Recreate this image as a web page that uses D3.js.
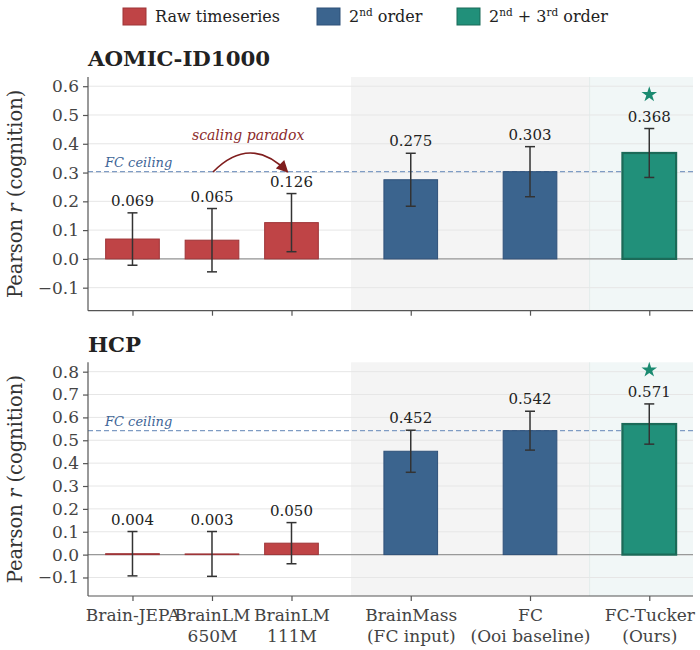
<!DOCTYPE html>
<html>
<head>
<meta charset="utf-8">
<script src="https://cdn.jsdelivr.net/npm/d3@7"></script>
<style>
  body { margin: 0; background: #fff; }
  svg text { font-family: "DejaVu Serif", serif; }
</style>
</head>
<body>
<div id="chart"></div>
<script>
// data
var categories = [["Brain-JEPA"], ["BrainLM", "650M"], ["BrainLM", "111M"],
                  ["BrainMass", "(FC input)"], ["FC", "(Ooi baseline)"], ["FC-Tucker", "(Ours)"]];
var groups = ["raw", "raw", "raw", "second", "second", "third"];
var aomicR = [0.069, 0.065, 0.126, 0.275, 0.303, 0.368];
var aomicErr = [0.091, 0.110, 0.101, 0.092, 0.087, 0.085];
var hcpR = [0.004, 0.003, 0.050, 0.452, 0.542, 0.571];
var hcpErr = [0.097, 0.098, 0.090, 0.092, 0.085, 0.088];
var fcCeiling = [0.303, 0.542];
var aomicTicks = [-0.1, 0, 0.1, 0.2, 0.3, 0.4, 0.5, 0.6];
var hcpTicks = [-0.1, 0, 0.1, 0.2, 0.3, 0.4, 0.5, 0.6, 0.7, 0.8];

var W = 700, H = 650;
var fill = {raw: "#bf4446", second: "#3b648e", third: "#21907a"};
var edge = {raw: "#9e3437", second: "#2e5079", third: "#1b6a58"};

// raw models sit closer together than the rest
var xPos = groups.map(function (g, i) { return i < 3 ? i * 2 / 3 : 4 / 3 + (i - 2); });

var svg = d3.select("#chart").append("svg").attr("width", W).attr("height", H);

var x = d3.scaleLinear().domain([-0.373, 4.70]).range([88, 693]);
var barW = x(0.45) - x(0);

// legend
var legendItems = [
  {g: "raw", x: 123, parts: [["Raw timeseries", 0]]},
  {g: "second", x: 317, parts: [["2", 0], ["nd", 1], [" order", 0]]},
  {g: "third", x: 457, parts: [["2", 0], ["nd", 1], [" + 3", 0], ["rd", 1], [" order", 0]]}
];
legendItems.forEach(function (d) {
  svg.append("rect").attr("x", d.x).attr("y", 8).attr("width", 23).attr("height", 17)
      .attr("fill", fill[d.g]).attr("stroke", edge[d.g]).attr("stroke-width", 1);
  var t = svg.append("text").attr("x", d.x + 32).attr("y", 22)
      .attr("font-size", 16).attr("fill", "#222");
  d.parts.forEach(function (p) {
    var s = t.append("tspan").text(p[0]);
    if (p[1]) s.attr("font-size", 10.5).attr("dy", -6);
    else if (t.selectAll("tspan").size() > 1) s.attr("dy", 6);
  });
});

function panel(opt) {
  var y = d3.scaleLinear().domain(opt.domain).range([opt.bottom, opt.top]);
  var g = svg.append("g");
  var x0 = x.range()[0], x1 = x.range()[1];

  // shaded groups
  g.append("rect").attr("x", x(1.833)).attr("y", opt.top)
      .attr("width", x(3.833) - x(1.833)).attr("height", opt.bottom - opt.top)
      .attr("fill", "#f4f4f4");
  g.append("rect").attr("x", x(3.833)).attr("y", opt.top)
      .attr("width", x1 - x(3.833)).attr("height", opt.bottom - opt.top)
      .attr("fill", "#f1f7f7");
  g.append("line").attr("x1", x(3.833)).attr("x2", x(3.833))
      .attr("y1", opt.top).attr("y2", opt.bottom).attr("stroke", "#e4eceb").attr("stroke-width", 1);

  // grid
  g.selectAll(".grid").data(opt.ticks).enter().append("line")
      .attr("x1", x0).attr("x2", x1)
      .attr("y1", function (d) { return y(d); }).attr("y2", function (d) { return y(d); })
      .attr("stroke", "#e6e6e6").attr("stroke-width", 1);

  // zero line
  g.append("line").attr("x1", x0).attr("x2", x1).attr("y1", y(0)).attr("y2", y(0))
      .attr("stroke", "#999").attr("stroke-width", 1.2);

  // FC ceiling
  g.append("line").attr("x1", x0).attr("x2", x1)
      .attr("y1", y(opt.ceiling)).attr("y2", y(opt.ceiling))
      .attr("stroke", "#7f9cc4").attr("stroke-width", 1.2).attr("stroke-dasharray", "5,3");
  g.append("text").attr("x", 105).attr("y", y(opt.ceiling) - 5)
      .attr("font-size", 13).attr("font-style", "italic").attr("fill", "#3d6496")
      .text("FC ceiling");

  // bars
  g.selectAll(".bar").data(opt.r).enter().append("rect")
      .attr("x", function (d, i) { return x(xPos[i]) - barW / 2; })
      .attr("y", function (d) { return y(Math.max(d, 0)); })
      .attr("width", barW)
      .attr("height", function (d) { return Math.abs(y(d) - y(0)); })
      .attr("fill", function (d, i) { return fill[groups[i]]; })
      .attr("stroke", function (d, i) { return edge[groups[i]]; })
      .attr("stroke-width", function (d, i) { return groups[i] === "third" ? 2.2 : 1; });

  // error bars
  opt.r.forEach(function (d, i) {
    var cx = x(xPos[i]), lo = y(d - opt.err[i]), hi = y(d + opt.err[i]);
    g.append("line").attr("x1", cx).attr("x2", cx).attr("y1", lo).attr("y2", hi)
        .attr("stroke", "#333").attr("stroke-width", 1.5);
    [lo, hi].forEach(function (yy) {
      g.append("line").attr("x1", cx - 5).attr("x2", cx + 5).attr("y1", yy).attr("y2", yy)
          .attr("stroke", "#333").attr("stroke-width", 1.5);
    });
    g.append("text").attr("x", cx).attr("y", hi - 7).attr("text-anchor", "middle")
        .attr("font-size", 15).attr("fill", "#222").text(d3.format(".3f")(d));
    if (groups[i] === "third") {
      g.append("path").attr("d", d3.symbol(d3.symbolStar, 75)())
          .attr("transform", "translate(" + cx + "," + (hi - 34) + ")")
          .attr("fill", "#1a8a70");
    }
  });

  // axes
  var ya = g.append("g").attr("transform", "translate(" + x0 + ",0)")
      .call(d3.axisLeft(y).tickValues(opt.ticks).tickFormat(d3.format(".1f")).tickSize(5).tickPadding(4));
  var xa = g.append("g").attr("transform", "translate(0," + opt.bottom + ")")
      .call(d3.axisBottom(x).tickValues(xPos).tickFormat("").tickSize(5));
  [ya, xa].forEach(function (a) {
    a.select(".domain").attr("stroke", "#555").attr("stroke-width", 1.2);
    a.selectAll(".tick line").attr("stroke", "#555").attr("stroke-width", 1.2);
    a.selectAll(".tick text").attr("font-size", 17).attr("fill", "#444")
        .attr("font-family", "DejaVu Serif");
  });
  xa.select(".domain").attr("d", "M" + x0 + ",0H" + x1);
  ya.select(".domain").attr("d", "M0," + opt.top + "V" + opt.bottom);

  if (opt.labels) {
    xa.selectAll(".tick").append("text")
        .attr("fill", "#444").attr("font-size", 17).attr("text-anchor", "middle")
        .selectAll("tspan").data(function (d, i) { return categories[i]; }).enter().append("tspan")
        .attr("x", 0).attr("y", function (d, j) { return 25 + j * 20.5; }).text(function (d) { return d; });
  }

  // title
  svg.append("text").attr("x", 88).attr("y", opt.titleY).attr("font-size", 21.3)
      .attr("font-weight", "bold").attr("fill", "#222").text(opt.title);

  // y label
  var mid = (opt.top + opt.bottom) / 2;
  var yl = svg.append("text").attr("transform", "translate(22," + mid + ") rotate(-90)")
      .attr("text-anchor", "middle").attr("font-size", 19.5).attr("fill", "#333");
  yl.append("tspan").text("Pearson ");
  yl.append("tspan").attr("font-style", "italic").text("r");
  yl.append("tspan").text(" (cognition)");

  return y;
}

var yTop = panel({title: "AOMIC-ID1000", titleY: 66, top: 77, bottom: 310.7, domain: [-0.18, 0.632],
  ticks: aomicTicks, r: aomicR, err: aomicErr, ceiling: fcCeiling[0], labels: false});
panel({title: "HCP", titleY: 352, top: 362.3, bottom: 596, domain: [-0.181, 0.841],
  ticks: hcpTicks, r: hcpR, err: hcpErr, ceiling: fcCeiling[1], labels: true});

// scaling paradox annotation
var ax0 = x(0.675), ax1 = x(1.30), ay = yTop(0.302);
var defs = svg.append("defs");
defs.append("marker").attr("id", "head").attr("viewBox", "0 0 10 10").attr("refX", 9).attr("refY", 5)
    .attr("markerWidth", 13).attr("markerHeight", 12).attr("markerUnits", "userSpaceOnUse")
    .attr("orient", "auto")
  .append("path").attr("d", "M0,0L10,5L0,10Z").attr("fill", "#7f1d1d");
svg.append("path")
    .attr("d", "M" + ax0 + "," + ay + "Q" + ((ax0 + ax1) / 2) + "," + (ay - 38) + " " + ax1 + "," + ay)
    .attr("fill", "none").attr("stroke", "#7f1d1d").attr("stroke-width", 1.6)
    .attr("marker-end", "url(#head)");
svg.append("text").attr("x", x(0.97)).attr("y", 140).attr("text-anchor", "middle")
    .attr("font-size", 14).attr("font-style", "italic").attr("fill", "#8b2a2a")
    .text("scaling paradox");
</script>
</body>
</html>
